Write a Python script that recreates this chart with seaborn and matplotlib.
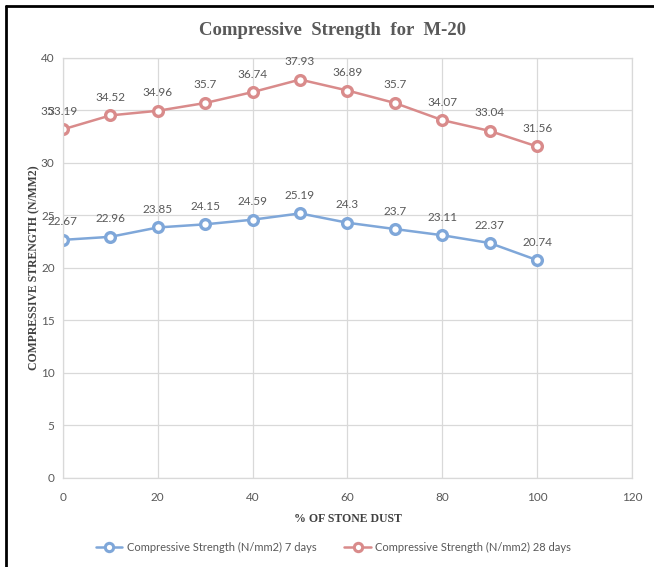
import matplotlib
matplotlib.use("Agg")
import matplotlib.pyplot as plt
from matplotlib.lines import Line2D
import seaborn as sns
import pandas as pd

stone_dust = [0, 10, 20, 30, 40, 50, 60, 70, 80, 90, 100]
strength_7 = [22.67, 22.96, 23.85, 24.15, 24.59, 25.19, 24.3, 23.7, 23.11, 22.37, 20.74]
strength_28 = [33.19, 34.52, 34.96, 35.7, 36.74, 37.93, 36.89, 35.7, 34.07, 33.04, 31.56]
series_names = ["Compressive Strength (N/mm2) 7 days",
                "Compressive Strength (N/mm2) 28 days"]
series_colors = ["#7fa7d9", "#d98b8b"]

df = pd.concat([
    pd.DataFrame({"dust": stone_dust, "strength": strength_7, "series": series_names[0]}),
    pd.DataFrame({"dust": stone_dust, "strength": strength_28, "series": series_names[1]}),
])

sns.set_theme(style="white")
plt.rcParams["font.family"] = ["Lato", "DejaVu Sans"]

fig = plt.figure(figsize=(6.54, 5.67), dpi=100)
ax = fig.add_axes([0.0963, 0.157, 0.870, 0.741])

palette = dict(zip(series_names, series_colors))
sns.lineplot(data=df, x="dust", y="strength", hue="series", palette=palette,
             marker="o", linewidth=1.8, markersize=7, ax=ax, legend=False)
for ln in ax.lines:
    ln.set_markerfacecolor("white")
    ln.set_markeredgecolor(ln.get_color())
    ln.set_markeredgewidth(2.4)

# value labels above each point
for vals, col in ((strength_7, series_colors[0]), (strength_28, series_colors[1])):
    for x, y in zip(stone_dust, vals):
        ax.annotate(f"{y:g}", (x, y), xytext=(0, 9), textcoords="offset points",
                    ha="center", va="bottom", fontsize=8.5, color="#595959")

ax.set_xlim(0, 120)
ax.set_ylim(0, 40)
ax.set_xticks(range(0, 121, 20))
ax.set_yticks(range(0, 41, 5))
ax.grid(True, color="#d9d9d9", linewidth=0.9)
for sp in ax.spines.values():
    sp.set_color("#d9d9d9")
    sp.set_linewidth(0.9)
ax.tick_params(axis="both", length=0, labelsize=8.5, labelcolor="#595959")
ax.tick_params(axis="x", pad=10)
ax.tick_params(axis="y", pad=6)

serif = ["Liberation Serif", "DejaVu Serif"]
ax.set_xlabel("% OF STONE DUST", fontsize=8.5, fontweight="bold", color="#404040",
              family=serif, labelpad=7)
ax.set_ylabel("COMPRESSIVE STRENGTH (N/MM2)", fontsize=8.5, fontweight="bold",
              color="#404040", family=serif)
ax.yaxis.set_label_coords(-0.04, 0.5)

fig.text(0.508, 0.947, "Compressive  Strength  for  M-20", ha="center", va="center",
         fontsize=13.5, fontweight="bold", color="#595959", family=serif)

handles = [Line2D([0], [0], color=c, linewidth=1.8, marker="o", markersize=6,
                  markerfacecolor="white", markeredgecolor=c, markeredgewidth=2.2)
           for c in series_colors]
leg = fig.legend(handles, series_names, loc="center", bbox_to_anchor=(0.51, 0.034),
                 ncol=2, frameon=False, fontsize=8, handlelength=2.4,
                 columnspacing=2.5, handletextpad=0.4)
for t in leg.get_texts():
    t.set_color("#595959")

# page frame around the chart
fig.add_artist(Line2D([0.009, 0.009], [0, 0.99], transform=fig.transFigure,
                      color="black", linewidth=2))
fig.add_artist(Line2D([0.009, 1.0], [0.99, 0.99], transform=fig.transFigure,
                      color="black", linewidth=2))

fig.savefig("out.png", dpi=100)
